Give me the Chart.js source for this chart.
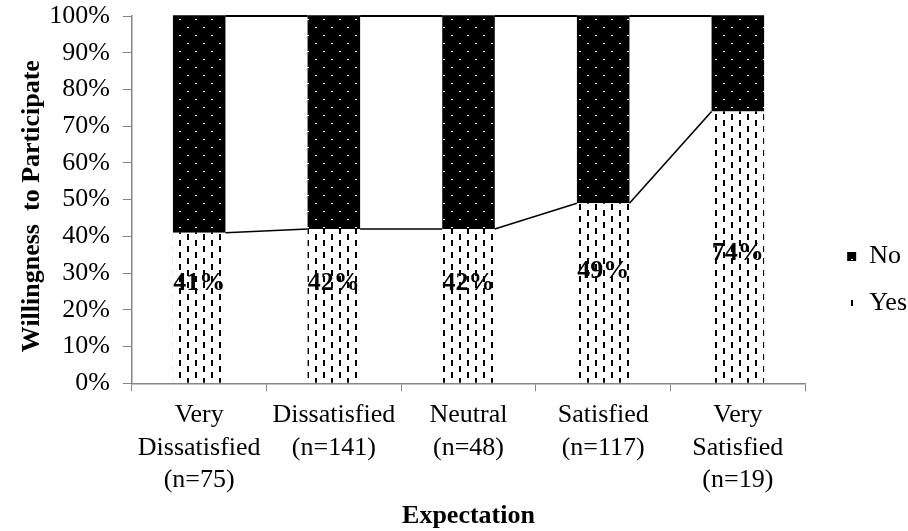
<!DOCTYPE html>
<html>
<head>
<meta charset="utf-8">
<script src="https://cdn.jsdelivr.net/npm/chart.js@4"></script>
<style>
  html, body { margin: 0; padding: 0; background: #fff; }
  #wrap { width: 908px; height: 531px; position: relative; }
</style>
</head>
<body>
<div id="wrap"><canvas id="c" width="908" height="531"></canvas></div>
<script>
const categories = [
  ["Very", "Dissatisfied", "(n=75)"],
  ["Dissatisfied", "(n=141)"],
  ["Neutral", "(n=48)"],
  ["Satisfied", "(n=117)"],
  ["Very", "Satisfied", "(n=19)"]
];
const yesValues = [41, 42, 42, 49, 74];
const noValues = [59, 58, 58, 51, 26];
const yesLabels = ["41%", "42%", "42%", "49%", "74%"];
const yTickValues = [0, 10, 20, 30, 40, 50, 60, 70, 80, 90, 100];

const SERIF = '"Liberation Serif", "Times New Roman", serif';

function makeNoPattern() {
  const p = document.createElement('canvas');
  p.width = 16; p.height = 16;
  const g = p.getContext('2d');
  g.fillStyle = '#000'; g.fillRect(0, 0, 16, 16);
  g.fillStyle = '#fff';
  g.fillRect(3, 3, 2, 1);
  g.fillRect(11, 11, 2, 1);
  return g.createPattern(p, 'repeat');
}
function makeYesPattern() {
  const p = document.createElement('canvas');
  p.width = 16; p.height = 12;
  const g = p.getContext('2d');
  g.fillStyle = '#fff'; g.fillRect(0, 0, 16, 12);
  g.fillStyle = '#000';
  g.fillRect(3, 0, 2, 6);
  g.fillRect(11, 6, 2, 6);
  return g.createPattern(p, 'repeat');
}

const seriesLines = {
  id: 'seriesLines',
  afterDatasetsDraw(chart) {
    const ctx = chart.ctx;
    const y = chart.scales.y;
    const yesMeta = chart.getDatasetMeta(0).data;
    const noMeta = chart.getDatasetMeta(1).data;
    ctx.save();
    ctx.strokeStyle = '#000';
    for (let i = 0; i < yesMeta.length - 1; i++) {
      const a = yesMeta[i], b = yesMeta[i + 1];
      const x1 = a.x + a.width / 2, x2 = b.x - b.width / 2;
      ctx.lineWidth = 1.6;
      ctx.beginPath();
      ctx.moveTo(x1, y.getPixelForValue(yesValues[i]));
      ctx.lineTo(x2, y.getPixelForValue(yesValues[i + 1]));
      ctx.stroke();
      ctx.lineWidth = 2;
      ctx.beginPath();
      ctx.moveTo(x1, y.getPixelForValue(yesValues[i] + noValues[i]));
      ctx.lineTo(x2, y.getPixelForValue(yesValues[i + 1] + noValues[i + 1]));
      ctx.stroke();
    }
    ctx.lineWidth = 1.5;
    noMeta.forEach((m, i) => {
      const yy = y.getPixelForValue(yesValues[i] + noValues[i]);
      ctx.beginPath();
      ctx.moveTo(m.x - m.width / 2, yy);
      ctx.lineTo(m.x + m.width / 2, yy);
      ctx.stroke();
    });
    ctx.restore();
  }
};

const dataLabels = {
  id: 'dataLabels',
  afterDatasetsDraw(chart, args, opts) {
    const ctx = chart.ctx;
    const y = chart.scales.y;
    const meta = chart.getDatasetMeta(0).data;
    ctx.save();
    ctx.font = 'bold 26px ' + SERIF;
    ctx.fillStyle = '#000';
    ctx.textAlign = 'center';
    ctx.textBaseline = 'middle';
    meta.forEach((m, i) => {
      ctx.fillText(yesLabels[i], m.x, y.getPixelForValue(opts.anchors[i]));
    });
    ctx.restore();
  }
};

new Chart(document.getElementById('c'), {
  type: 'bar',
  data: {
    labels: categories,
    datasets: [
      { label: 'Yes', data: yesValues, backgroundColor: makeYesPattern(), borderWidth: 0 },
      { label: 'No', data: noValues, backgroundColor: makeNoPattern(), borderWidth: 0 }
    ]
  },
  options: {
    responsive: false,
    animation: false,
    devicePixelRatio: 1,
    layout: { padding: { top: 16, right: -9, left: 17, bottom: 0 } },
    datasets: { bar: { categoryPercentage: 1, barPercentage: 0.39 } },
    scales: {
      x: {
        stacked: true,
        grid: { display: true, drawOnChartArea: false, offset: true, color: '#868686', tickLength: 8, tickColor: '#868686' },
        border: { color: '#868686', width: 1.5 },
        ticks: { color: '#000', font: { family: SERIF, size: 26, lineHeight: 1.25 }, maxRotation: 0, autoSkip: false, padding: 8 },
        title: { display: true, text: 'Expectation', color: '#000', font: { family: SERIF, size: 26, weight: 'bold' }, padding: { top: -4, bottom: -1 } }
      },
      y: {
        stacked: true,
        min: 0, max: 100,
        afterBuildTicks(axis) { axis.ticks = yTickValues.map(v => ({ value: v })); },
        afterFit(axis) { axis.paddingTop = 0; axis.paddingBottom = 0; },
        grid: { display: true, drawOnChartArea: false, color: '#868686', tickLength: 9, tickColor: '#868686' },
        border: { color: '#868686', width: 1.5 },
        ticks: { color: '#000', font: { family: SERIF, size: 26 }, padding: 13, callback: v => v + '%' },
        title: { display: true, text: 'Willingness  to Participate  ', color: '#000', font: { family: SERIF, size: 26, weight: 'bold' }, padding: { top: 0, bottom: -12 } }
      },
      spacer: {
        type: 'linear',
        position: 'right',
        display: true,
        grid: { display: false },
        border: { display: false },
        ticks: { display: false },
        afterFit(axis) { axis.width = 21; axis.paddingTop = 0; axis.paddingBottom = 0; }
      }
    },
    plugins: {
      legend: {
        position: 'right',
        reverse: true,
        title: { display: true, text: '', font: { family: SERIF, size: 10 }, padding: { top: 0, bottom: 1 } },
        labels: {
          color: '#000',
          font: { family: SERIF, size: 26 },
          boxWidth: 9, boxHeight: 9,
          padding: 21,
          useBorderRadius: false
        }
      },
      tooltip: { enabled: false },
      dataLabels: { anchors: [27.3, 27.3, 27.3, 30.6, 35.5] }
    }
  },
  plugins: [seriesLines, dataLabels]
});
</script>
</body>
</html>
